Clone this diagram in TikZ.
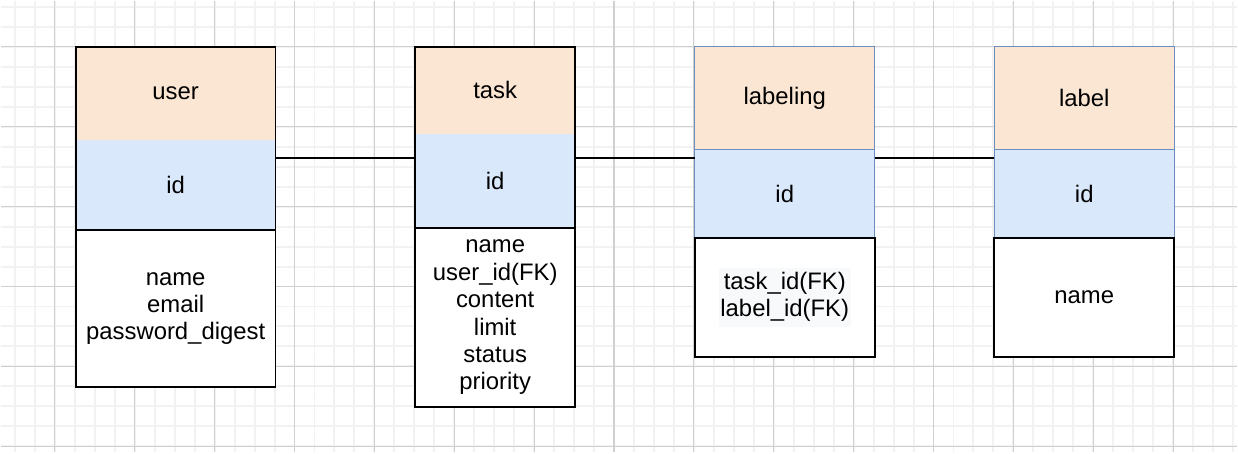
\documentclass[tikz,border=0pt]{standalone}
\usepackage{fontspec}
\setmainfont{Liberation Sans}
\definecolor{headfill}{HTML}{FAE6D2}
\definecolor{keyfill}{HTML}{DAE8FC}
\definecolor{keyline}{HTML}{6C8EBF}
\definecolor{gridminor}{HTML}{F2F2F2}
\definecolor{gridmajor}{HTML}{D0D0D0}
\definecolor{hl}{HTML}{F8F9FA}
\setlength{\fboxsep}{1pt}
\begin{document}
\begin{tikzpicture}[x=0.02cm,y=-0.02cm,
    cell/.style={anchor=north west,inner sep=0pt,outer sep=0pt,align=center,
        font=\fontsize{13.6pt}{15.6pt}\selectfont},
    head/.style={cell,fill=headfill},
    key/.style={cell,fill=keyfill},
    bluecell/.style={draw=keyline,line width=0.6pt},
    attr/.style={cell,fill=white,draw=black,line width=1.1pt},
    frame/.style={draw=black,line width=1.1pt},
    conn/.style={line width=1.1pt}]
    % background grid
    \fill[white] (0,0) rectangle (1238,452);
    \foreach \x in {14,34,...,1234}
        \draw[gridminor,line width=1.1pt] (\x,0) -- (\x,452);
    \foreach \y in {6,26,...,446}
        \draw[gridminor,line width=1.1pt] (0,\y) -- (1238,\y);
    \foreach \x in {54,134,...,1174}
        \draw[gridmajor,line width=0.6pt] (\x,0) -- (\x,452);
    \foreach \y in {46,126,...,446}
        \draw[gridmajor,line width=0.6pt] (0,\y) -- (1238,\y);

    % user
    \node[head,minimum width=4cm,minimum height=1.86cm] (userH) at (75,46) {user};
    \node[key,minimum width=4cm,minimum height=1.8cm] (userK) at (userH.south west) {id};
    \draw[frame] (userH.north west) rectangle (userK.south east);
    \node[attr,minimum width=4cm,minimum height=3.16cm] (userB) at (userK.south west)
        {name\\email\\password\_digest};

    % task
    \node[head,minimum width=3.2cm,minimum height=1.74cm] (taskH) at (415,46) {task};
    \node[key,minimum width=3.2cm,minimum height=1.88cm] (taskK) at (taskH.south west) {id};
    \draw[frame] (taskH.north west) rectangle (taskK.south east);
    \node[attr,minimum width=3.2cm,minimum height=3.6cm] (taskB) at (taskK.south west)
        {name\\user\_id(FK)\\content\\limit\\status\\priority};

    % labeling
    \node[head,bluecell,minimum width=3.6cm,minimum height=2.06cm] (labelingH) at (695,46) {labeling};
    \node[key,bluecell,minimum width=3.6cm,minimum height=1.76cm] (labelingK) at (labelingH.south west) {id};
    \node[attr,minimum width=3.6cm,minimum height=2.4cm] (labelingB) at (labelingK.south west)
        {\colorbox{hl}{\begin{tabular}{@{}c@{}}task\_id(FK)\\label\_id(FK)\end{tabular}}};

    % label
    \node[head,bluecell,minimum width=3.6cm,minimum height=2.06cm] (labelH) at (995,46) {label};
    \node[key,bluecell,minimum width=3.6cm,minimum height=1.76cm] (labelK) at (labelH.south west) {id};
    \node[attr,minimum width=3.6cm,minimum height=2.4cm] (labelB) at (labelK.south west) {name};

    % relations
    \coordinate (link) at (0,157);
    \draw[conn] (userK.east |- link) -- (taskK.west |- link);
    \draw[conn] (taskK.east |- link) -- (labelingK.west |- link);
    \draw[conn] (labelingK.east |- link) -- (labelK.west |- link);
\end{tikzpicture}
\end{document}
